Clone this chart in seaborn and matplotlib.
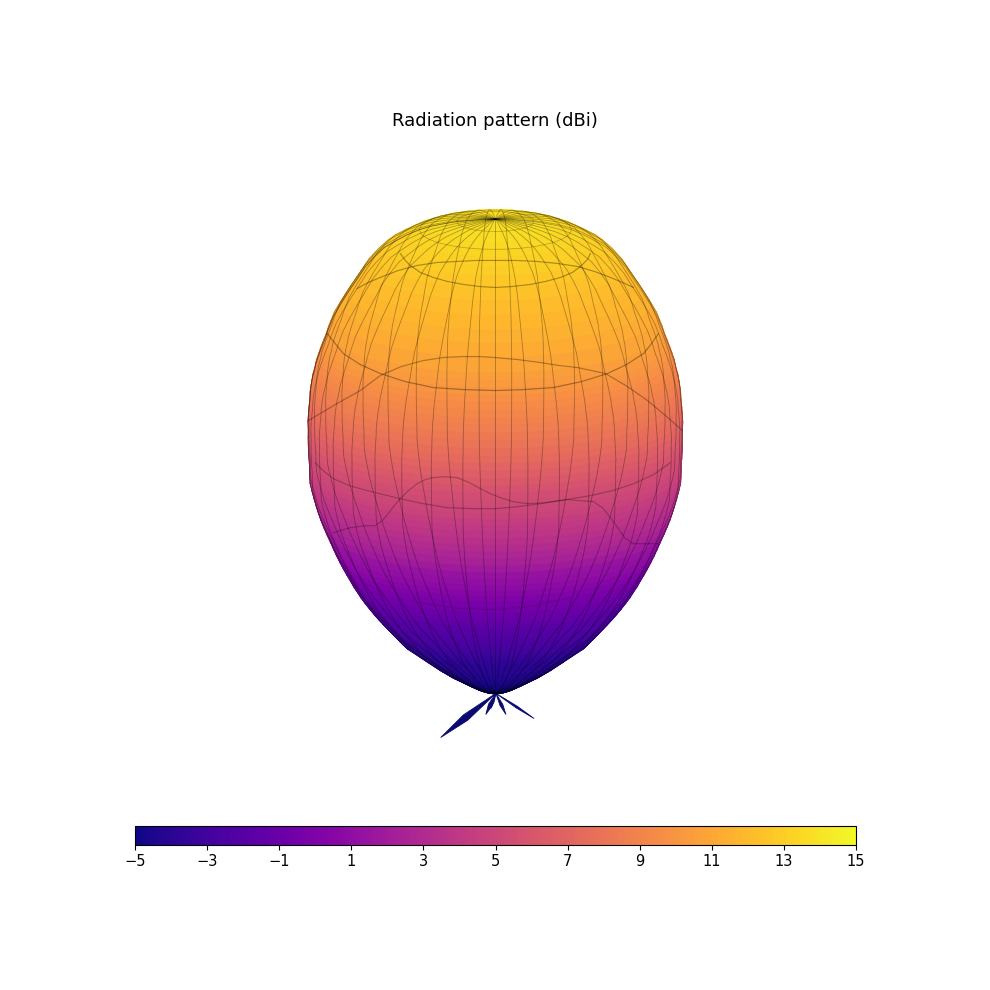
import numpy as np
import matplotlib
matplotlib.use("Agg")
import matplotlib.pyplot as plt
import seaborn as sns
from matplotlib.cm import ScalarMappable
from matplotlib.colors import Normalize
from mpl_toolkits.mplot3d.art3d import Poly3DCollection

# main lobe (angle from the top, radius, gain in dBi)
theta_deg = [0, 1.5, 3, 4.5, 6, 7.5, 9, 10.5, 12, 13.5, 15, 16.5, 18, 19.5, 21, 22.5,
             24, 24.75, 25.5, 26.25, 27, 27.75, 28.5, 29.25, 30, 30.75, 31.5, 32.25, 33, 33.75, 34.5, 35.25,
             36, 36.75, 37.5, 38.25, 39, 39.75, 40.5, 41.25, 42, 42.75, 43.5, 44.25, 45, 45.75, 46.5, 47.25,
             48, 48.75, 49.5, 50.25, 51, 51.75, 52.5, 53.25, 54, 54.75, 55.5, 56.25, 57, 57.75, 58.5, 59.25, 60,
             62, 64, 66, 68, 70, 72, 74, 76, 78, 80, 82, 84, 86, 88, 90]
radius = [490, 490, 489, 489, 488, 487, 485, 482, 478, 474, 467, 459, 449, 440, 431, 422,
          411, 405, 400, 395, 390, 385, 379, 374, 368, 362, 355, 349, 343, 337, 330, 324,
          318, 312, 306, 300, 295, 290, 285, 278, 271, 264, 257, 249, 241, 233, 226, 219,
          212, 205, 198, 191, 185, 178, 172, 165, 158, 151, 144, 137, 130, 124, 118, 113, 108,
          82, 66, 52, 38, 30, 24, 20, 16, 13, 10, 8, 6, 4, 2, 0]
gain_db = [13.8, 13.8, 13.7, 13.7, 13.6, 13.5, 13.3, 13.1, 12.9, 12.7, 12.4, 12.1, 11.8, 11.5, 11.2, 10.9,
           10.5, 10.25, 10.0, 9.7, 9.4, 9.15, 8.9, 8.6, 8.3, 8.0, 7.7, 7.35, 7.0, 6.6, 6.2, 5.85,
           5.5, 5.25, 5.0, 4.7, 4.4, 4.1, 3.8, 3.45, 3.1, 2.75, 2.4, 1.9, 1.4, 1.1, 0.8, 0.4,
           0.0, -0.3, -0.6, -0.9, -1.2, -1.5, -1.8, -2.05, -2.3, -2.5, -2.7, -2.95, -3.2, -3.4, -3.6, -3.8, -4.0,
           -4.3, -4.5, -4.7, -4.8, -4.9, -5, -5, -5, -5, -5, -5, -5, -5, -5, -5]

# front meridians every 10 degrees, back ones fall between them
phi_deg = [-180, -170, -160, -150, -140, -130, -120, -110, -100, -90, -80, -70, -60, -50, -40, -30, -20, -10, 0,
           5, 15, 25, 35, 45, 55, 65, 75, 85, 95, 105, 115, 125, 135, 145, 155, 165, 175, 180]

# ring lines on the lobe (x, height above the bottom tip)
ring_a_x = [-95, -90, -85, -75, -62, -48, -32, -16, 0, 17, 35, 50, 65, 77, 85, 92, 95]
ring_a_h = [439, 432, 427, 420, 415, 411, 408, 406, 405, 406, 408, 411, 415, 420, 426, 433, 439]
ring_b_x = [-138, -127, -115, -97, -78, -58, -38, -19, 0, 21, 42, 62, 82, 99, 115, 127, 138]
ring_b_h = [404, 410, 415, 422, 427, 430, 431, 432, 432, 432, 431, 429, 426, 421, 415, 410, 405]
ring_c_x = [-168, -160, -152, -135, -115, -90, -62, -32, 0, 29, 58, 86, 112, 131, 148, 156, 163]
ring_c_h = [359, 349, 339, 328, 319, 311, 305, 303, 302, 303, 305, 311, 319, 328, 339, 349, 359]
ring_d_x = [-187, -160, -135, -115, -94, -72, -52, -32, -16, 0, 22, 45, 64, 82, 96, 110, 132, 152, 170, 187]
ring_d_h = [272, 288, 302, 317, 326, 332, 335, 336, 336, 335, 333, 330, 327, 325, 322, 319, 306, 292, 277, 262]
ring_e_x = [-180, -172, -162, -146, -128, -95, -72, -48, -24, 0, 22, 45, 70, 95, 117, 138, 158, 175]
ring_e_h = [230, 222, 214, 207, 202, 194, 189, 185, 184, 184, 186, 189, 193, 197, 202, 209, 218, 230]
ring_f_x = [-162, -145, -130, -120, -113, -107, -101, -95, -87, -78, -70, -62, -50, -38, -26, -15, -5, 5, 18, 32,
            50, 72, 85, 98, 107, 115, 123, 130, 135, 138, 150, 163]
ring_f_h = [160, 165, 167, 167, 172, 179, 187, 194, 202, 209, 213, 215, 216, 215, 210, 204, 199, 195, 191, 189,
            190, 193, 192, 191, 185, 175, 164, 154, 151, 149, 149, 149]
ring_g_x = [-75, -35, 0, 38, 75]
ring_g_h = [90, 84, 83, 87, 95]
small_ring_rows = [4.5, 9]

# side lobes under the tip
lobe_x = [-55, 38, 10, -10, -5]
lobe_h = [-44, -25, -21, -21, -15]
lobe_width = [7, 2, 3, 4, 2]

ticks = [-5, -3, -1, 1, 3, 5, 7, 9, 11, 13, 15]

elev = 15
cos_e = np.cos(np.radians(elev))

sns.set_theme(style="white")
cmap = sns.color_palette("plasma", as_cmap=True)
norm = Normalize(-5, 15)

th = np.radians(theta_deg)
ph = np.radians(phi_deg)
R = np.array(radius, dtype=float)[:, None] * np.ones_like(ph)
X = R * np.sin(th)[:, None] * np.cos(ph)
Y = R * np.sin(th)[:, None] * np.sin(ph)
Z = R * np.cos(th)[:, None] * np.ones_like(ph)
colors = cmap(norm(np.repeat(np.array(gain_db)[:, None], len(phi_deg), axis=1)))

fig = plt.figure(figsize=(9.9, 9.9), dpi=100)
ax = fig.add_axes([-13 / 990, -14 / 990, 1, 1], projection="3d", computed_zorder=False)
ax.set_proj_type("ortho")
ax.view_init(elev=elev, azim=-90)

L = 300
ax.set_xlim(-L, L)
ax.set_ylim(-L, L)
ax.set_zlim(204 - L, 204 + L)
ax.set_box_aspect((1, 1, 1), zoom=1.02)
ax.set_axis_off()

# side lobes
for x, h, w in zip(lobe_x, lobe_h, lobe_width):
    z = h / cos_e
    px, pz = -z, x
    n = np.hypot(x, z)
    mx, mz = x * 0.55 + w / 2 * px / n, z * 0.55 + w / 2 * pz / n
    nx, nz = x * 0.55 - w / 2 * px / n, z * 0.55 - w / 2 * pz / n
    verts = [[(0, 0, 0), (mx, 0, mz), (x, 0, z), (nx, 0, nz)]]
    ax.add_collection3d(Poly3DCollection(verts, facecolor="#0b0a70", edgecolor="#0b0a70", linewidth=0.6, zorder=1))

ax.plot_surface(X, Y, Z, facecolors=colors, rstride=1, cstride=1, shade=False,
                linewidth=0.6, antialiased=True, zorder=2)

# meridians, both sides show through
ax.plot_wireframe(X, Y, Z, rstride=0, cstride=1, color="black", linewidth=0.6, alpha=0.3, zorder=3)

for row in small_ring_rows:
    i = theta_deg.index(row)
    ax.plot(X[i], Y[i], Z[i], color="black", linewidth=0.6, alpha=0.22, zorder=3)

rings = [(ring_a_x, ring_a_h, 0.33), (ring_b_x, ring_b_h, 0.33), (ring_c_x, ring_c_h, 0.33), (ring_d_x, ring_d_h, 0.3),
         (ring_e_x, ring_e_h, 0.25), (ring_f_x, ring_f_h, 0.25), (ring_g_x, ring_g_h, 0.1)]
for rx, rh, a in rings:
    ax.plot(rx, np.zeros(len(rx)), np.array(rh) / cos_e, color="black", linewidth=0.85, alpha=a, zorder=4)

fig.text(0.5, 1 - 121 / 990, "Radiation pattern (dBi)", ha="center", va="center", fontsize=13, color="black")

cax = fig.add_axes([135 / 990, 1 - 845 / 990, 721 / 990, 19 / 990])
cb = fig.colorbar(ScalarMappable(norm=norm, cmap=cmap), cax=cax, orientation="horizontal")
cb.set_ticks(ticks)
cb.ax.tick_params(labelsize=10.5, length=3.5, width=0.8, bottom=True, color="black", labelcolor="black", pad=3)
cb.outline.set_edgecolor("black")
cb.outline.set_linewidth(0.8)

fig.savefig("out.png", dpi=100, facecolor="white")
